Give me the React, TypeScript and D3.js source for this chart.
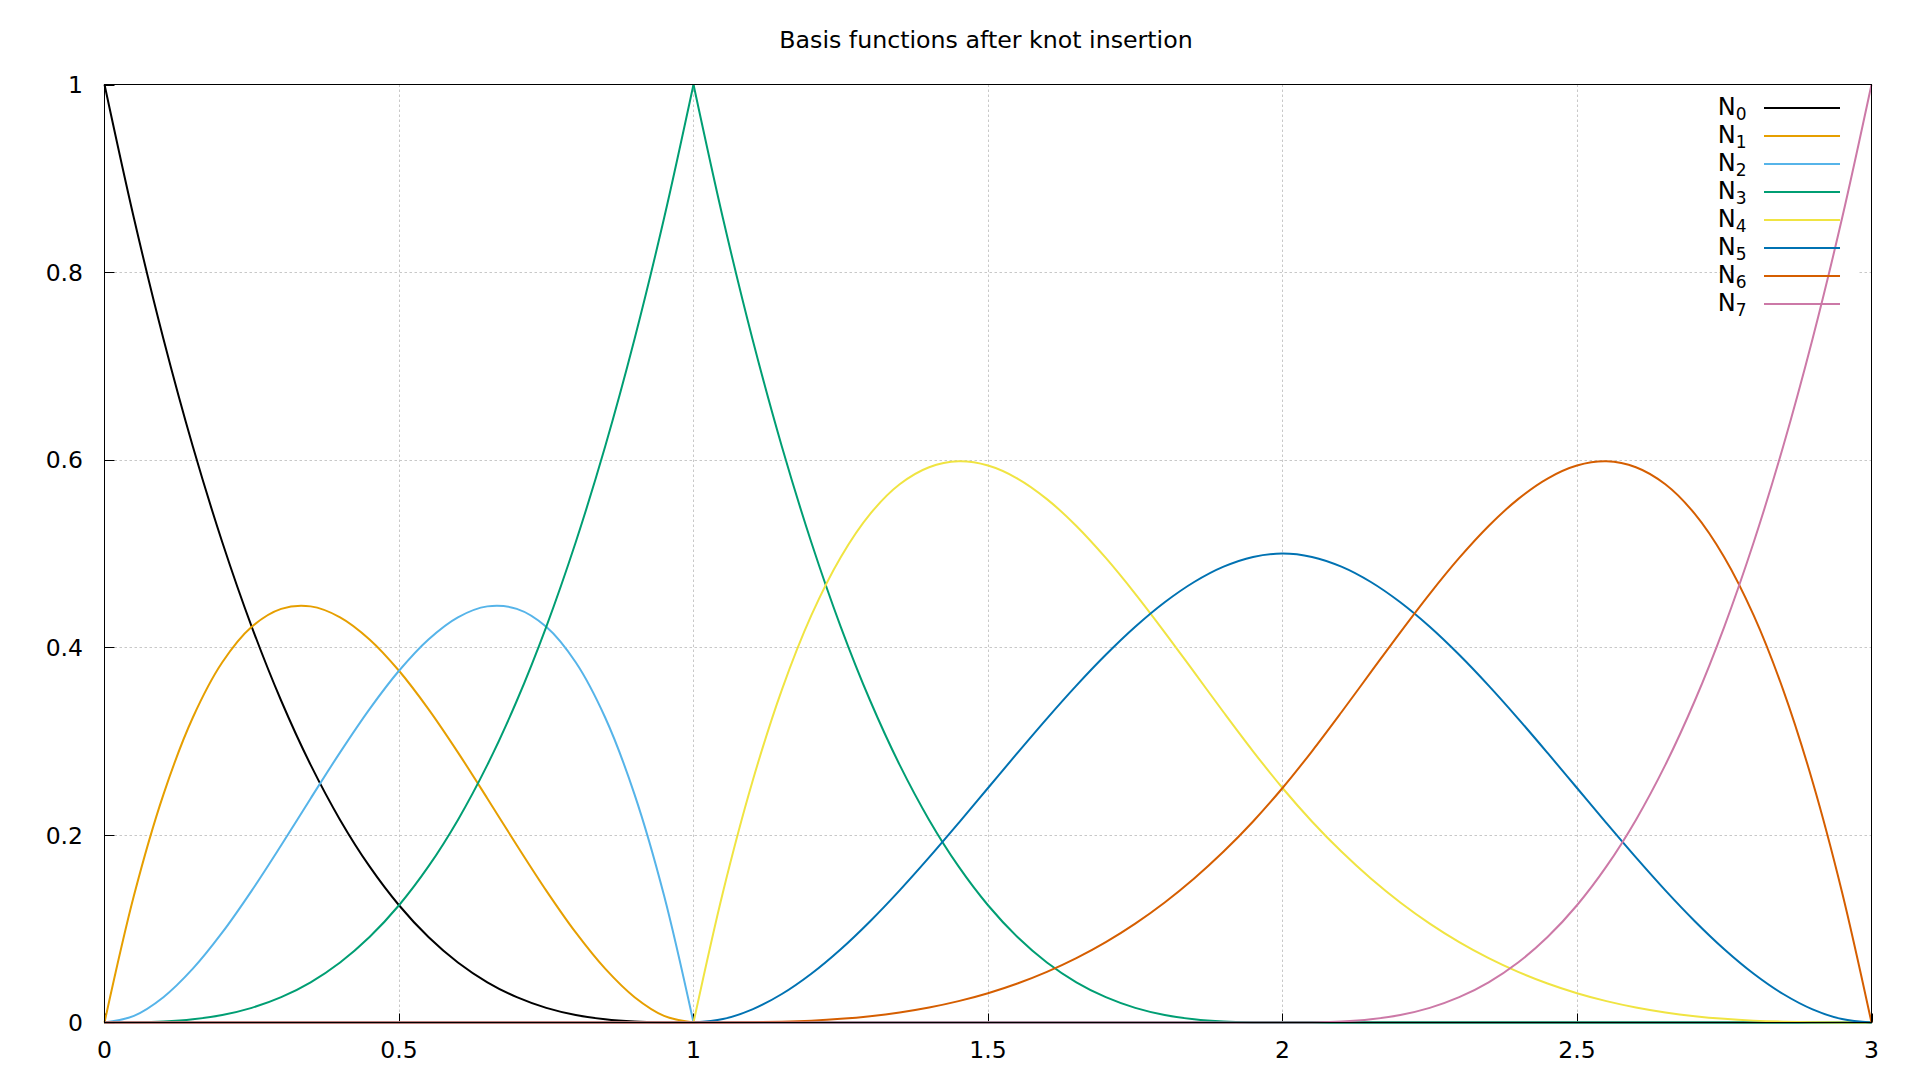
import React from 'react';
import * as d3 from 'd3';

const title = 'Basis functions after knot insertion';

const xs = [
  0, 0.05, 0.1, 0.15, 0.2, 0.25, 0.3, 0.35, 0.4, 0.45, 0.5, 0.55, 0.6, 0.65, 0.7, 0.75, 0.8, 0.85, 0.9, 0.95,
  1, 1.05, 1.1, 1.15, 1.2, 1.25, 1.3, 1.35, 1.4, 1.45, 1.5, 1.55, 1.6, 1.65, 1.7, 1.75, 1.8, 1.85, 1.9, 1.95,
  2, 2.05, 2.1, 2.15, 2.2, 2.25, 2.3, 2.35, 2.4, 2.45, 2.5, 2.55, 2.6, 2.65, 2.7, 2.75, 2.8, 2.85, 2.9, 2.95, 3,
];

const N0 = [
  1, 0.857375, 0.729, 0.614125, 0.512, 0.421875, 0.343, 0.274625, 0.216, 0.166375, 0.125, 0.091125, 0.064, 0.042875, 0.027, 0.015625, 0.008, 0.003375, 0.001, 0.000125,
  0, 0, 0, 0, 0, 0, 0, 0, 0, 0, 0, 0, 0, 0, 0, 0, 0, 0, 0, 0,
  0, 0, 0, 0, 0, 0, 0, 0, 0, 0, 0, 0, 0, 0, 0, 0, 0, 0, 0, 0, 0,
];
const N1 = [
  0, 0.135375, 0.243, 0.325125, 0.384, 0.421875, 0.441, 0.443625, 0.432, 0.408375, 0.375, 0.334125, 0.288, 0.238875, 0.189, 0.140625, 0.096, 0.057375, 0.027, 0.007125,
  0, 0, 0, 0, 0, 0, 0, 0, 0, 0, 0, 0, 0, 0, 0, 0, 0, 0, 0, 0,
  0, 0, 0, 0, 0, 0, 0, 0, 0, 0, 0, 0, 0, 0, 0, 0, 0, 0, 0, 0, 0,
];
const N2 = [
  0, 0.007125, 0.027, 0.057375, 0.096, 0.140625, 0.189, 0.238875, 0.288, 0.334125, 0.375, 0.408375, 0.432, 0.443625, 0.441, 0.421875, 0.384, 0.325125, 0.243, 0.135375,
  0, 0, 0, 0, 0, 0, 0, 0, 0, 0, 0, 0, 0, 0, 0, 0, 0, 0, 0, 0,
  0, 0, 0, 0, 0, 0, 0, 0, 0, 0, 0, 0, 0, 0, 0, 0, 0, 0, 0, 0, 0,
];
const N3 = [
  0, 0.000125, 0.001, 0.003375, 0.008, 0.015625, 0.027, 0.042875, 0.064, 0.091125, 0.125, 0.166375, 0.216, 0.274625, 0.343, 0.421875, 0.512, 0.614125, 0.729, 0.857375,
  1, 0.857375, 0.729, 0.614125, 0.512, 0.421875, 0.343, 0.274625, 0.216, 0.166375, 0.125, 0.091125, 0.064, 0.042875, 0.027, 0.015625, 0.008, 0.003375, 0.001, 0.000125,
  0, 0, 0, 0, 0, 0, 0, 0, 0, 0, 0, 0, 0, 0, 0, 0, 0, 0, 0, 0, 0,
];
const N4 = [
  0, 0, 0, 0, 0, 0, 0, 0, 0, 0, 0, 0, 0, 0, 0, 0, 0, 0, 0, 0,
  0, 0.13897, 0.25675, 0.35466, 0.434, 0.49609, 0.54225, 0.57378, 0.592, 0.59822, 0.59375, 0.57991, 0.558, 0.52934, 0.49525, 0.45703, 0.416, 0.37347, 0.33075, 0.28916,
  0.25, 0.21434, 0.18225, 0.15353, 0.128, 0.10547, 0.08575, 0.06866, 0.054, 0.04159, 0.03125, 0.02278, 0.016, 0.01072, 0.00675, 0.00391, 0.002, 0.00084, 0.00025, 0.00003, 0,
];
const N5 = [
  0, 0, 0, 0, 0, 0, 0, 0, 0, 0, 0, 0, 0, 0, 0, 0, 0, 0, 0, 0,
  0, 0.003625, 0.014, 0.030375, 0.052, 0.078125, 0.108, 0.140875, 0.176, 0.212625, 0.25, 0.287375, 0.324, 0.359125, 0.392, 0.421875, 0.448, 0.469625, 0.486, 0.496375,
  0.5, 0.496375, 0.486, 0.469625, 0.448, 0.421875, 0.392, 0.359125, 0.324, 0.287375, 0.25, 0.212625, 0.176, 0.140875, 0.108, 0.078125, 0.052, 0.030375, 0.014, 0.003625, 0,
];
const N6 = [
  0, 0, 0, 0, 0, 0, 0, 0, 0, 0, 0, 0, 0, 0, 0, 0, 0, 0, 0, 0,
  0, 0.00003, 0.00025, 0.00084, 0.002, 0.00391, 0.00675, 0.01072, 0.016, 0.02278, 0.03125, 0.04159, 0.054, 0.06866, 0.08575, 0.10547, 0.128, 0.15353, 0.18225, 0.21434,
  0.25, 0.28916, 0.33075, 0.37347, 0.416, 0.45703, 0.49525, 0.52934, 0.558, 0.57991, 0.59375, 0.59822, 0.592, 0.57378, 0.54225, 0.49609, 0.434, 0.35466, 0.25675, 0.13897, 0,
];
const N7 = [
  0, 0, 0, 0, 0, 0, 0, 0, 0, 0, 0, 0, 0, 0, 0, 0, 0, 0, 0, 0,
  0, 0, 0, 0, 0, 0, 0, 0, 0, 0, 0, 0, 0, 0, 0, 0, 0, 0, 0, 0,
  0, 0.000125, 0.001, 0.003375, 0.008, 0.015625, 0.027, 0.042875, 0.064, 0.091125, 0.125, 0.166375, 0.216, 0.274625, 0.343, 0.421875, 0.512, 0.614125, 0.729, 0.857375, 1,
];

const seriesSubscripts = ['0', '1', '2', '3', '4', '5', '6', '7'];
const seriesColors = ['#000000', '#e69f00', '#56b4e9', '#009e73', '#f0e442', '#0072b2', '#d55e00', '#cc79a7'];

const xTicks = [0, 0.5, 1, 1.5, 2, 2.5, 3];
const xTickLabels = ['0', '0.5', '1', '1.5', '2', '2.5', '3'];
const yTicks = [0, 0.2, 0.4, 0.6, 0.8, 1];
const yTickLabels = ['0', '0.2', '0.4', '0.6', '0.8', '1'];

// knot of multiplicity 3 (curves only C0 here)
const breakAt = 1;

const FONT = '"DejaVu Sans", Verdana, sans-serif';

export default function App() {
  const W = 1920;
  const H = 1080;
  const left = 104.5, right = 1871.5, top = 84.5, bottom = 1022.5;

  const x = d3.scaleLinear().domain([0, 3]).range([left, right]);
  const y = d3.scaleLinear().domain([0, 1]).range([bottom, top]);

  const line = d3
    .line<[number, number]>()
    .x((d) => x(d[0]))
    .y((d) => y(d[1]))
    .curve(d3.curveCatmullRom.alpha(0.5));

  const series = [N0, N1, N2, N3, N4, N5, N6, N7];

  const paths = series.map((vals) => {
    const pts: [number, number][] = xs.map((xv, i) => [xv, vals[i]]);
    const a = pts.filter((p) => p[0] <= breakAt);
    const b = pts.filter((p) => p[0] >= breakAt);
    return [line(a) || '', line(b) || ''];
  });

  const legendTextRight = 1746.5;
  const legendLineX1 = 1764;
  const legendLineX2 = 1840;
  const legendY0 = 108;
  const legendStep = 28;

  return (
    <svg
      width={W}
      height={H}
      style={{ position: 'absolute', left: 0, top: 0, display: 'block', background: '#fff' }}
      fontFamily={FONT}
    >
      <rect x={0} y={0} width={W} height={H} fill="#ffffff" />

      {/* grid */}
      <g stroke="#c8c8c8" strokeWidth={1} strokeDasharray="2.5,2.5">
        {xTicks
          .filter((t) => t > 0 && t < 3)
          .map((t) => (
            <line key={'gx' + t} x1={Math.round(x(t)) + 0.5} x2={Math.round(x(t)) + 0.5} y1={top} y2={bottom} />
          ))}
        {yTicks
          .filter((t) => t > 0 && t < 1)
          .map((t) => (
            <line key={'gy' + t} x1={left} x2={right} y1={Math.round(y(t)) + 0.5} y2={Math.round(y(t)) + 0.5} />
          ))}
      </g>

      {/* key background */}
      <rect x={1733} y={92} width={125} height={226} fill="#ffffff" />

      {/* ticks */}
      <g stroke="#000" strokeWidth={1}>
        {xTicks.map((t) => (
          <line key={'tx' + t} x1={Math.round(x(t)) + 0.5} x2={Math.round(x(t)) + 0.5} y1={bottom} y2={bottom - 9} />
        ))}
        {yTicks.map((t) => (
          <line key={'ty' + t} x1={left} x2={left + 10} y1={Math.round(y(t)) + 0.5} y2={Math.round(y(t)) + 0.5} />
        ))}
      </g>

      {/* curves */}
      <g fill="none" strokeWidth={2} strokeLinejoin="round">
        {paths.map((p, i) => (
          <g key={'s' + i} stroke={seriesColors[i]}>
            <path d={p[0]} />
            <path d={p[1]} />
          </g>
        ))}
      </g>

      {/* border */}
      <rect x={left} y={top} width={right - left} height={bottom - top} fill="none" stroke="#000" strokeWidth={1} />

      {/* tick labels */}
      <g fontSize={23.5} fill="#000">
        {xTicks.map((t, i) => (
          <text key={'lx' + t} x={x(t)} y={1057.5} textAnchor="middle">
            {xTickLabels[i]}
          </text>
        ))}
        {yTicks.map((t, i) => (
          <text key={'ly' + t} x={83} y={y(t) + 8.6} textAnchor="end">
            {yTickLabels[i]}
          </text>
        ))}
      </g>

      {/* title */}
      <text x={986} y={48.3} textAnchor="middle" fontSize={23.7} fill="#000">
        {title}
      </text>

      {/* legend */}
      <g>
        {seriesSubscripts.map((s, i) => {
          const ly = legendY0 + legendStep * i;
          return (
            <g key={'lg' + i}>
              <text x={legendTextRight} y={ly + 6.5} textAnchor="end" fontSize={24} fill="#000">
                N
                <tspan fontSize={17} dy={5.7}>
                  {s}
                </tspan>
              </text>
              <line x1={legendLineX1} x2={legendLineX2} y1={ly} y2={ly} stroke={seriesColors[i]} strokeWidth={2} />
            </g>
          );
        })}
      </g>
    </svg>
  );
}
